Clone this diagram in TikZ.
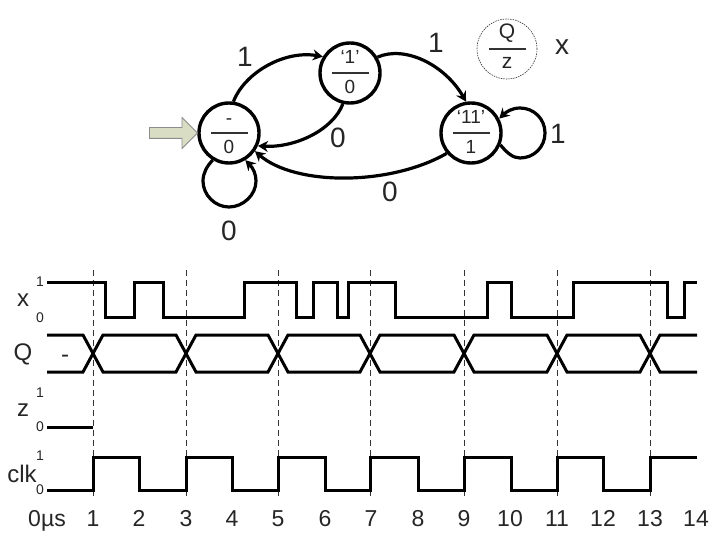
\documentclass[tikz,border=0pt]{standalone}
\usepackage{fontspec}
\setmainfont{Liberation Sans}
\usetikzlibrary{arrows.meta,shapes.arrows}
\newcommand{\fs}[1]{\fontsize{#1}{#1}\selectfont}
\definecolor{initcol}{HTML}{D9DDC3}
\tikzset{
  statebox/.style={circle,draw=black,line width=3.4pt,minimum size=60pt,inner sep=0pt,fill=none},
  legendbox/.style={circle,draw=black!80,dash pattern=on 1.5pt off 1pt,line width=0.6pt,minimum size=60pt,inner sep=0pt},
  edge/.style={line width=3.2pt,draw=black,-{Stealth[length=10pt,width=11pt]}},
  inner/.style={font=\fs{19},text=black!85,inner sep=0pt},
  big/.style={font=\fs{28},text=black!85,inner sep=0pt},
  sig/.style={font=\fs{24},text=black!85,inner sep=0pt},
  tick/.style={font=\fs{14},text=black!85,inner sep=0pt},
  axis/.style={font=\fs{23},text=black!85,inner sep=0pt,anchor=base},
  divider/.style={line width=1.8pt,draw=black!80},
  wave/.style={line width=3pt,draw=black,line join=miter},
  guide/.style={line width=0.9pt,draw=black!80,dash pattern=on 6pt off 4pt},
}
\begin{document}
\begin{tikzpicture}[x=1pt,y=-1pt]
\useasboundingbox (0,0) rectangle (720,540);
\fill[white] (0,0) rectangle (720,540);

% guides
\foreach \n/\px in {1/93,3/186,5/278,7/370,9/464,11/557,13/650}{
  \coordinate (gt\n) at (\px,270);
  \coordinate (gb\n) at (\px,497);
  \draw[guide] (gt\n) -- (gb\n);
}

% states
\node[statebox] (s0) at (229,133) {};
\node[statebox] (s1) at (350,73) {};
\node[statebox] (s2) at (471,133) {};
\node[legendbox] (leg) at (507,49) {};

\node[inner] (s0a) at (229,122) {-};
\node[inner] (s0b) at (229,147) {0};
\node[inner] (s1a) at (350,57) {‘1’};
\node[inner] (s1b) at (350,87) {0};
\node[inner] (s2a) at (471,117) {‘11’};
\node[inner] (s2b) at (471,147) {1};
\node[inner,font=\fs{21}] (lq) at (507,33) {Q};
\node[inner,font=\fs{21}] (lz) at (507,63) {z};
\draw[divider] (211,133) -- (248,133);
\draw[divider] (332,73) -- (369,73);
\draw[divider] (453,133) -- (490,133);
\draw[divider] (489,49) -- (526,49);

% initial arrow
\node[single arrow,draw=black!45,fill=initcol,line width=0.8pt,
  minimum height=48pt,minimum width=30pt,single arrow head extend=10pt,inner sep=0pt,anchor=tip] (init) at (198,133) {\rule{0pt}{10pt}};

% edges
\draw[edge] (s0.82) .. controls (245,72) and (285,50) .. (s1.149);
\draw[edge] (s1.257) .. controls (333,130) and (295,148) .. (s0.-24);
\draw[edge] (s1.30) .. controls (405,45) and (445,65) .. (s2.99);
\draw[edge] (s2.220) .. controls (390,186) and (295,186) .. (s0.-35);
\draw[edge] (s0.239) .. controls (207,166) and (203,173) .. (203,181) .. controls (203,195) and (215,207) .. (229,207)
  .. controls (243,207) and (256,195) .. (256,181) .. controls (256,174) and (253,168) .. (s0.-59);
\draw[edge] (s2.-22) .. controls (507,153) and (513,158) .. (520,158) .. controls (534,158) and (545,147) .. (545,133)
  .. controls (545,119) and (534,108) .. (520,108) .. controls (512,108) and (506,112) .. (s2.27);

% edge labels
\node[big] (e1) at (245,57) {1};
\node[big] (e2) at (436,43) {1};
\node[big] (e3) at (338,138) {0};
\node[big] (e4) at (390,192) {0};
\node[big] (e5) at (229,231) {0};
\node[big] (e6) at (558,134) {1};
\node[big] (lx) at (562,47) {x};

% signal labels
\node[sig] (nx) at (23,300) {x};
\node[sig] (nq) at (23,354) {Q};
\node[sig] (nz) at (23,410) {z};
\node[sig] (nc) at (22,474) {clk};
\node[sig] (dash) at (65,359) {-};
\node[tick] (x1) at (40,282) {1};
\node[tick] (x0) at (40,318) {0};
\node[tick] (z1) at (40,393) {1};
\node[tick] (z0) at (40,427) {0};
\node[tick] (c1) at (40,456) {1};
\node[tick] (c0) at (40,490) {0};

% waves
\draw[wave] (47,282) -- (105,282) -- (105,317) -- (134,317) -- (134,282) -- (163,282) -- (163,317)
  -- (244,317) -- (244,282) -- (296,282) -- (296,317) -- (313,317) -- (313,282) -- (337,282)
  -- (337,317) -- (348,317) -- (348,282) -- (395,282) -- (395,317) -- (487,317) -- (487,282)
  -- (511,282) -- (511,317) -- (573,317) -- (573,282) -- (667,282) -- (667,317) -- (684,317)
  -- (684,282) -- (697,282);
\draw[wave] (47,335) -- (83,335) -- (103,372) -- (176,372) -- (196,335) -- (268,335) -- (288,372)
  -- (360,372) -- (380,335) -- (454,335) -- (474,372) -- (547,372) -- (567,335) -- (640,335)
  -- (660,372) -- (697,372);
\draw[wave] (47,372) -- (83,372) -- (103,335) -- (176,335) -- (196,372) -- (268,372) -- (288,335)
  -- (360,335) -- (380,372) -- (454,372) -- (474,335) -- (547,335) -- (567,372) -- (640,372)
  -- (660,335) -- (697,335);
\draw[wave] (47,427) -- (93,427);
\draw[wave] (47,490) -- (93,490) -- (93,457) -- (139,457) -- (139,490) -- (186,490) -- (186,457)
  -- (232,457) -- (232,490) -- (278,490) -- (278,457) -- (325,457) -- (325,490) -- (370,490)
  -- (370,457) -- (418,457) -- (418,490) -- (464,490) -- (464,457) -- (511,457) -- (511,490)
  -- (557,490) -- (557,457) -- (603,457) -- (603,490) -- (650,490) -- (650,457) -- (697,457);

% axis
\node[axis] (t0) at (47,526) {0µs};
\foreach \n/\px in {1/93,2/139,3/186,4/232,5/278,6/325,7/371,8/418,9/464,10/510,11/557,12/603,13/650,14/696}{
  \node[axis] (t\n) at (\px,526) {\n};
}
\end{tikzpicture}
\end{document}
